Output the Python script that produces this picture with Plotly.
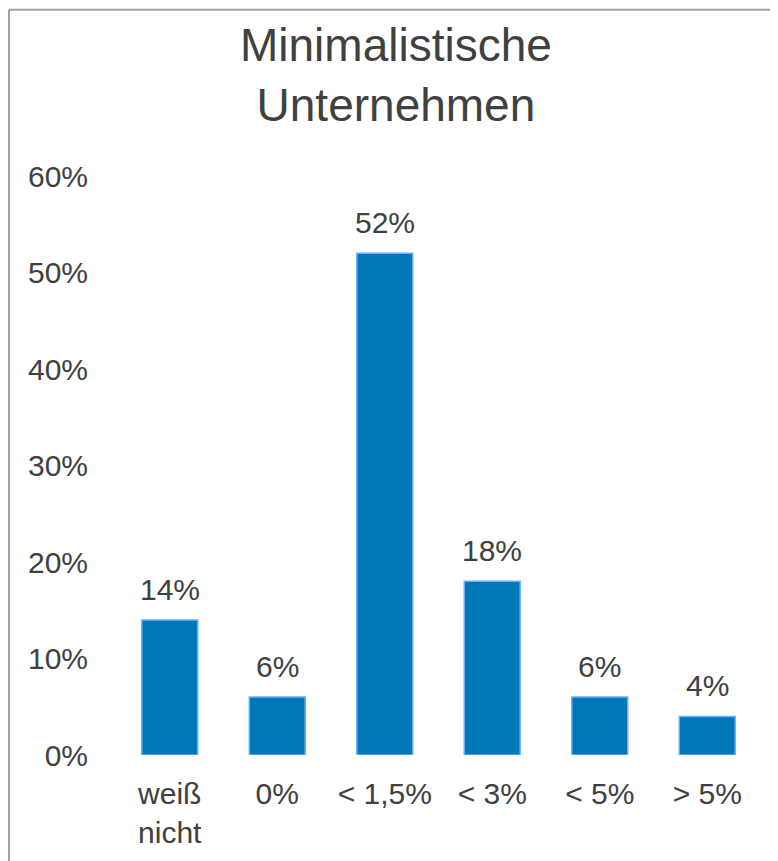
import plotly.graph_objects as go

categories = ["weiß<br>nicht", "0%", "< 1,5%", "< 3%", "< 5%", "> 5%"]
values = [14, 6, 52, 18, 6, 4]
value_labels = ["14%", "6%", "52%", "18%", "6%", "4%"]
y_ticks = [0, 10, 20, 30, 40, 50, 60]
y_tick_labels = ["0%", "10%", "20%", "30%", "40%", "50%", "60%"]
title_text = "Minimalistische<br>Unternehmen"

# figure sits inside the page's 8px body margin
W, H = 770, 853
ML, MR, MT, MB = 108, 17, 168, 103
FONT = "Liberation Sans, Arial, sans-serif"
TXT = "#404040"

fig = go.Figure()
fig.add_trace(go.Bar(
    x=categories, y=values,
    marker=dict(color="#0077B6", line=dict(color="#6AAEFF", width=1.5)),
    hoverinfo="skip",
))

for c, v, t in zip(categories, values, value_labels):
    fig.add_annotation(x=c, y=v, text=t, showarrow=False, yanchor="bottom",
                       yshift=12, font=dict(family=FONT, size=30, color=TXT))

pw = W - ML - MR
ph = H - MT - MB
def px_x(p):
    return (p - ML) / pw
def px_y(p):
    return (H - MB - p) / ph

fig.add_annotation(text=title_text, xref="paper", yref="paper",
                   x=px_x(388), y=px_y(66), xanchor="center", yanchor="middle",
                   showarrow=False, font=dict(family=FONT, size=46, color=TXT))

border = dict(color="#A0A0A0", width=2)
fig.add_shape(type="line", xref="paper", yref="paper",
              x0=px_x(1), x1=px_x(1), y0=px_y(1), y1=px_y(H + 10), line=border)
fig.add_shape(type="line", xref="paper", yref="paper",
              x0=px_x(1), x1=px_x(W + 10), y0=px_y(1), y1=px_y(1), line=border)

fig.update_layout(
    width=W, height=H,
    margin=dict(l=ML, r=MR, t=MT, b=MB),
    paper_bgcolor="white", plot_bgcolor="white",
    bargap=0.48,
    showlegend=False,
    font=dict(family=FONT, color=TXT, size=30),
    xaxis=dict(showgrid=False, zeroline=False, showline=False,
               ticks="outside", ticklen=12, tickcolor="rgba(0,0,0,0)",
               tickfont=dict(family=FONT, size=30, color=TXT), fixedrange=True),
    yaxis=dict(range=[0, 60], tickvals=y_ticks, ticktext=y_tick_labels,
               showgrid=False, zeroline=False, showline=False,
               ticks="outside", ticklen=21, tickcolor="rgba(0,0,0,0)",
               tickfont=dict(family=FONT, size=30, color=TXT), fixedrange=True),
)

fig.write_html("out.html")
